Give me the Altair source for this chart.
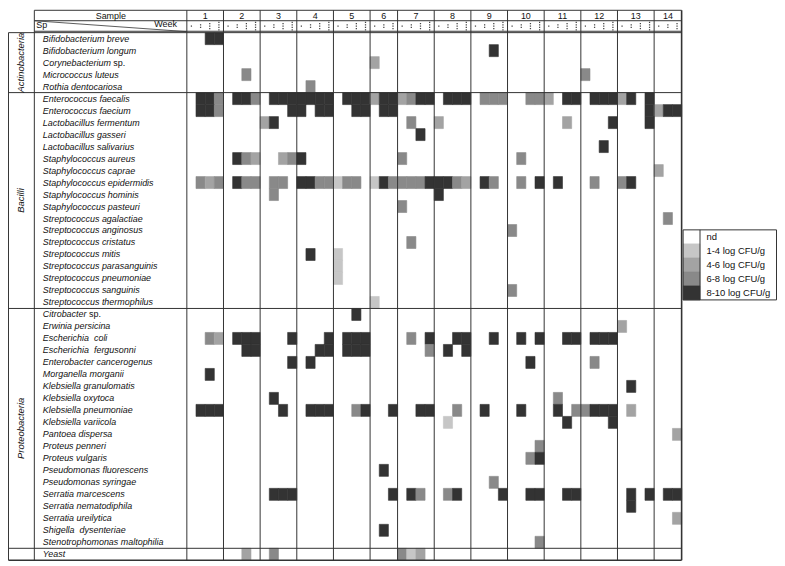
import altair as alt
import pandas as pd

# ---------------- data ----------------
SAMPLES = list(range(1, 15))
WEEKS_PER_SAMPLE = [4, 4, 4, 4, 4, 3, 4, 4, 4, 4, 4, 4, 4, 3]

SPECIES = [
    "Bifidobacterium breve", "Bifidobacterium longum", "Corynebacterium sp.",
    "Micrococcus luteus", "Rothia dentocariosa",
    "Enterococcus faecalis", "Enterococcus faecium", "Lactobacillus fermentum",
    "Lactobacillus gasseri", "Lactobacillus salivarius", "Staphylococcus aureus",
    "Staphylococcus caprae", "Staphylococcus epidermidis", "Staphylococcus hominis",
    "Staphylococcus pasteuri", "Streptococcus agalactiae", "Streptococcus anginosus",
    "Streptococcus cristatus", "Streptococcus mitis", "Streptococcus parasanguinis",
    "Streptococcus pneumoniae", "Streptococcus sanguinis", "Streptococcus thermophilus",
    "Citrobacter sp.", "Erwinia persicina", "Escherichia\u00a0 coli",
    "Escherichia\u00a0 fergusonni", "Enterobacter cancerogenus", "Morganella morganii",
    "Klebsiella granulomatis", "Klebsiella oxytoca", "Klebsiella pneumoniae",
    "Klebsiella variicola", "Pantoea dispersa", "Proteus penneri", "Proteus vulgaris",
    "Pseudomonas fluorescens", "Pseudomonas syringae", "Serratia marcescens",
    "Serratia nematodiphila", "Serratia ureilytica", "Shigella\u00a0 dysenteriae",
    "Stenotrophomonas maltophilia", "Yeast",
]

PHYLA = ["Actinobacteria", "Bacilli", "Proteobacteria"]
PHYLUM_ROWS = [(0, 5), (5, 23), (23, 43)]

LEVEL_LABELS = ["nd", "1-4 log CFU/g", "4-6 log CFU/g", "6-8 log CFU/g", "8-10 log CFU/g"]
LEVEL_COLORS = ["#ffffff", "#c6c6c6", "#a3a3a3", "#898989", "#333333"]

# one string per species: 14 sample groups, one digit per week (0 = nd ... 4 = 8-10 log)
LEVELS = [
    "0044 0000 0000 0000 0000 000 0000 0000 0000 0000 0000 0000 0000 000",
    "0000 0000 0000 0000 0000 000 0000 0000 0040 0000 0000 0000 0000 000",
    "0000 0000 0000 0000 0000 200 0000 0000 0000 0000 0000 0000 0000 000",
    "0000 0030 0000 0000 0000 000 0000 0000 0000 0000 0000 3000 0000 000",
    "0000 0000 0000 0300 0000 000 0000 0000 0000 0000 0000 0000 0000 000",
    "0443 0443 0444 4444 0444 244 2344 0444 0333 0033 2044 0444 2404 000",
    "0443 0000 0004 4044 0044 044 0000 0000 0000 0000 0000 0000 0004 244",
    "0000 0000 2400 0000 0000 000 0300 2000 0000 0000 0020 0004 0004 000",
    "0000 0000 0000 0000 0000 000 0040 0000 0000 0000 0000 0000 0000 000",
    "0000 0000 0000 0000 0000 000 0000 0000 0000 0000 0000 0040 0000 000",
    "0000 0432 0023 4000 0000 000 3000 0000 0000 0300 0000 0000 0000 000",
    "0000 0000 0000 0000 0000 000 0000 0000 0000 0000 0000 0000 0000 200",
    "0323 0433 0330 4433 1330 143 3334 4432 0430 0304 0400 0300 3400 000",
    "0000 0000 0300 0000 0000 000 0000 4000 0000 0000 0000 0000 0000 000",
    "0000 0000 0000 0000 0000 000 3000 0000 0000 0000 0000 0000 0000 000",
    "0000 0000 0000 0000 0000 000 0000 0000 0000 0000 0000 0000 0000 030",
    "0000 0000 0000 0000 0000 000 0000 0000 0000 3000 0000 0000 0000 000",
    "0000 0000 0000 0000 0000 000 0300 0000 0000 0000 0000 0000 0000 000",
    "0000 0000 0000 0400 1000 000 0000 0000 0000 0000 0000 0000 0000 000",
    "0000 0000 0000 0000 1000 000 0000 0000 0000 0000 0000 0000 0000 000",
    "0000 0000 0000 0000 1000 000 0000 0000 0000 0000 0000 0000 0000 000",
    "0000 0000 0000 0000 0000 000 0000 0000 0000 3000 0000 0000 0000 000",
    "0000 0000 0000 0000 0000 100 0000 0000 0000 0000 0000 0000 0000 000",
    "0000 0000 0000 0000 0040 000 0000 0000 0000 0000 0000 0000 0000 000",
    "0000 0000 0000 0000 0000 000 0000 0000 0000 0000 0000 0000 2000 000",
    "0032 0444 0004 0004 0444 000 0304 0044 0040 0404 0044 0444 0000 000",
    "0000 0044 0000 0044 0444 000 0003 0404 0000 0000 0000 0000 0000 000",
    "0000 0000 0004 0400 0000 000 0000 0000 0000 0040 0000 0300 0000 000",
    "0040 0000 0000 0000 0000 000 0000 0000 0000 0000 0000 0000 0000 000",
    "0000 0000 0000 0000 0000 000 0000 0000 0000 0000 0000 0000 0400 000",
    "0000 0000 0400 0000 0000 000 0000 0000 0000 0000 0300 0000 0000 000",
    "0444 0000 0040 0444 0034 004 0044 0030 0400 0400 0403 3444 0200 000",
    "0000 0000 0000 0000 0000 000 0000 0100 0000 0000 0040 0004 0000 000",
    "0000 0000 0000 0000 0000 000 0000 0000 0000 0000 0000 0000 0000 002",
    "0000 0000 0000 0000 0000 000 0000 0000 0000 0003 0000 0000 0000 000",
    "0000 0000 0000 0000 0000 000 0000 0000 0000 0034 0000 0000 0000 000",
    "0000 0000 0000 0000 0000 040 0000 0000 0000 0000 0000 0000 0000 000",
    "0000 0000 0000 0000 0000 000 0000 0000 0030 0000 0000 0000 0000 000",
    "0000 0000 0444 0000 0000 004 0430 0340 0004 0044 0044 0000 0404 044",
    "0000 0000 0000 0000 0000 000 0000 0000 0000 0000 0000 0000 0400 000",
    "0000 0000 0000 0000 0000 000 0000 0000 0000 0000 0000 0000 0000 002",
    "0000 0000 0000 0000 0000 040 0000 0000 0000 0000 0000 0000 0000 000",
    "0000 0000 0000 0000 0000 000 0000 0000 0000 0003 0000 0000 0000 000",
    "0000 0020 0300 0000 0000 000 3120 0000 0000 0000 0000 0000 0000 000",
]

# ---------------- layout (pixels) ----------------
W, H = 774, 556
PAGE = 8                 # page margin
CW = (686 - 188) / 54    # px per week column
RH = 12.07               # px per species row


def ux(px):   # page x -> column units
    return (px - 188) / CW


def uy(py):   # page y -> row units
    return (py - 31) / RH


XS = alt.Scale(domain=[ux(PAGE), ux(PAGE + W)], nice=False, zero=False)
YS = alt.Scale(domain=[uy(PAGE), uy(PAGE + H)], nice=False, zero=False, reverse=True)
CS = alt.Scale(domain=LEVEL_LABELS, range=LEVEL_COLORS)
NROW = len(SPECIES)

col_start = []
c = 0
for n in WEEKS_PER_SAMPLE:
    col_start.append(c)
    c += n
NCOL = c

# ---------------- cells ----------------
cells = []
for r, s in enumerate(LEVELS):
    groups = s.split()
    for si, g in enumerate(groups):
        for k, ch in enumerate(g):
            lv = int(ch)
            if lv > 0:
                x = col_start[si] + k
                cells.append({"x": x, "x2": x + 1, "y": r, "y2": r + 1,
                              "level": LEVEL_LABELS[lv]})
cells = pd.DataFrame(cells)

cell_layer = alt.Chart(cells).mark_rect(strokeWidth=0.6).encode(
    x=alt.X("x:Q", scale=XS, axis=None), x2="x2:Q",
    y=alt.Y("y:Q", scale=YS, axis=None), y2="y2:Q",
    color=alt.Color("level:N", scale=CS, legend=None),
    stroke=alt.Stroke("level:N", scale=CS, legend=None),
)

# ---------------- table lines ----------------
lines = []
L, R = ux(8.5), float(NCOL)
LBL = ux(34.5)
TOP = uy(8.5)


def hline(y, x1, x2, w=1.0):
    lines.append({"x": x1, "x2": x2, "y": y, "y2": y, "w": w})


def vline(x, y1, y2, w=1.0):
    lines.append({"x": x, "x2": x, "y": y1, "y2": y2, "w": w})


hline(TOP, LBL, R)
hline(uy(19), LBL, R)
hline(uy(29.6), LBL, R)
hline(0, L, R)
for a, b in PHYLUM_ROWS:
    hline(b, L, R)
hline(NROW, L, R, 1.6)
vline(L, 0, NROW)
vline(LBL, TOP, NROW)
vline(0, TOP, NROW)
for si in range(1, len(SAMPLES)):
    vline(col_start[si], TOP, NROW)
vline(R, TOP, NROW, 1.6)
lines.append({"x": LBL, "x2": 0, "y": uy(19), "y2": uy(30), "w": 0.8})
lines = pd.DataFrame(lines)

line_layer = alt.Chart(lines).mark_rule(color="#333333").encode(
    x=alt.X("x:Q", scale=XS), x2="x2:Q",
    y=alt.Y("y:Q", scale=YS), y2="y2:Q",
    strokeWidth=alt.StrokeWidth("w:Q", scale=None),
)

# ---------------- week dots ----------------
dots = []
for si, n in enumerate(WEEKS_PER_SAMPLE):
    for k in range(n):
        for i in range(k + 1):
            dots.append({"x": col_start[si] + k + 0.5,
                         "y": uy(24.4 + (i - k / 2) * 2.5)})
dots = pd.DataFrame(dots)
dot_layer = alt.Chart(dots).mark_square(size=1.6, color="#444444", opacity=1).encode(
    x=alt.X("x:Q", scale=XS), y=alt.Y("y:Q", scale=YS))

FONT = "Liberation Sans, Arial, sans-serif"

# ---------------- species labels ----------------
lab = []
suf = []
SUFFIX_X = {"Corynebacterium": 114.0, "Citrobacter": 89.5}
for r, name in enumerate(SPECIES):
    if name.endswith(" sp."):
        base = name[:-4]
        lab.append({"x": ux(43), "y": r + 0.5, "t": base})
        suf.append({"x": ux(SUFFIX_X[base]), "y": r + 0.5, "t": "sp."})
    else:
        lab.append({"x": ux(43), "y": r + 0.5, "t": name})
lab = pd.DataFrame(lab)
suf = pd.DataFrame(suf)

lab_layer = alt.Chart(lab).mark_text(align="left", baseline="middle", font=FONT, fontSize=9,
                                     fontStyle="italic", color="#111111").encode(
    x=alt.X("x:Q", scale=XS), y=alt.Y("y:Q", scale=YS), text="t:N")
suf_layer = alt.Chart(suf).mark_text(align="left", baseline="middle", font=FONT, fontSize=9,
                                     color="#111111").encode(
    x=alt.X("x:Q", scale=XS), y=alt.Y("y:Q", scale=YS), text="t:N")

phy = pd.DataFrame([{"x": ux(21), "y": (a + b) / 2, "t": p} for p, (a, b) in zip(PHYLA, PHYLUM_ROWS)])
phy_layer = alt.Chart(phy).mark_text(align="center", baseline="middle", font=FONT, fontSize=9.5,
                                     fontStyle="italic", angle=270, color="#111111").encode(
    x=alt.X("x:Q", scale=XS), y=alt.Y("y:Q", scale=YS), text="t:N")

# ---------------- header ----------------
hdr = [{"x": ux(111.5), "y": uy(13.9), "t": "Sample"}]
for si, s in enumerate(SAMPLES):
    hdr.append({"x": col_start[si] + WEEKS_PER_SAMPLE[si] / 2, "y": uy(13.9), "t": str(s)})
hdr = pd.DataFrame(hdr)
hdr_layer = alt.Chart(hdr).mark_text(align="center", baseline="middle", font=FONT, fontSize=9,
                                     color="#111111").encode(
    x=alt.X("x:Q", scale=XS), y=alt.Y("y:Q", scale=YS), text="t:N")

sp_layer = alt.Chart(pd.DataFrame([{"x": ux(36.5), "y": uy(23.2), "t": "Sp"}])).mark_text(
    align="left", baseline="middle", font=FONT, fontSize=9, color="#111111").encode(
    x=alt.X("x:Q", scale=XS), y=alt.Y("y:Q", scale=YS), text="t:N")
wk_layer = alt.Chart(pd.DataFrame([{"x": ux(178), "y": uy(22.6), "t": "Week"}])).mark_text(
    align="right", baseline="middle", font=FONT, fontSize=9, color="#111111").encode(
    x=alt.X("x:Q", scale=XS), y=alt.Y("y:Q", scale=YS), text="t:N")

# ---------------- legend ----------------
LG_X1, LG_XM, LG_X2 = 687.5, 704.5, 781.5
LG_Y0, LG_DY = 229.5, 14.1
leg = pd.DataFrame([{"x": ux(LG_X1), "x2": ux(LG_XM), "y": uy(LG_Y0 + i * LG_DY),
                     "y2": uy(LG_Y0 + (i + 1) * LG_DY), "level": l,
                     "tx": ux(711), "ty": uy(LG_Y0 + (i + 0.5) * LG_DY)}
                    for i, l in enumerate(LEVEL_LABELS)])
leg_sw = alt.Chart(leg).mark_rect(strokeWidth=0.6).encode(
    x=alt.X("x:Q", scale=XS), x2="x2:Q", y=alt.Y("y:Q", scale=YS), y2="y2:Q",
    color=alt.Color("level:N", scale=CS, legend=None),
    stroke=alt.Stroke("level:N", scale=CS, legend=None))
leg_tx = alt.Chart(leg).mark_text(align="left", baseline="middle", font=FONT, fontSize=9.5,
                                  color="#111111").encode(
    x=alt.X("tx:Q", scale=XS), y=alt.Y("ty:Q", scale=YS), text="level:N")
leg_box = pd.DataFrame([
    {"x": ux(LG_X1), "x2": ux(LG_X2), "y": uy(LG_Y0), "y2": uy(LG_Y0)},
    {"x": ux(LG_X1), "x2": ux(LG_X2), "y": uy(LG_Y0 + 5 * LG_DY), "y2": uy(LG_Y0 + 5 * LG_DY)},
    {"x": ux(LG_X1), "x2": ux(LG_X1), "y": uy(LG_Y0), "y2": uy(LG_Y0 + 5 * LG_DY)},
    {"x": ux(LG_XM), "x2": ux(LG_XM), "y": uy(LG_Y0), "y2": uy(LG_Y0 + 5 * LG_DY)},
    {"x": ux(LG_X2), "x2": ux(LG_X2), "y": uy(LG_Y0), "y2": uy(LG_Y0 + 5 * LG_DY)},
])
leg_lines = alt.Chart(leg_box).mark_rule(color="#333333", strokeWidth=1).encode(
    x=alt.X("x:Q", scale=XS), x2="x2:Q", y=alt.Y("y:Q", scale=YS), y2="y2:Q")

chart = alt.layer(
    cell_layer, leg_sw, line_layer, dot_layer, lab_layer, suf_layer, phy_layer,
    hdr_layer, sp_layer, wk_layer, leg_tx, leg_lines,
).properties(
    width=W, height=H, padding=0,
    autosize=alt.AutoSizeParams(type="none"),
).configure_view(stroke=None)

chart.save("out.html", embed_options={"renderer": "svg", "actions": False})
